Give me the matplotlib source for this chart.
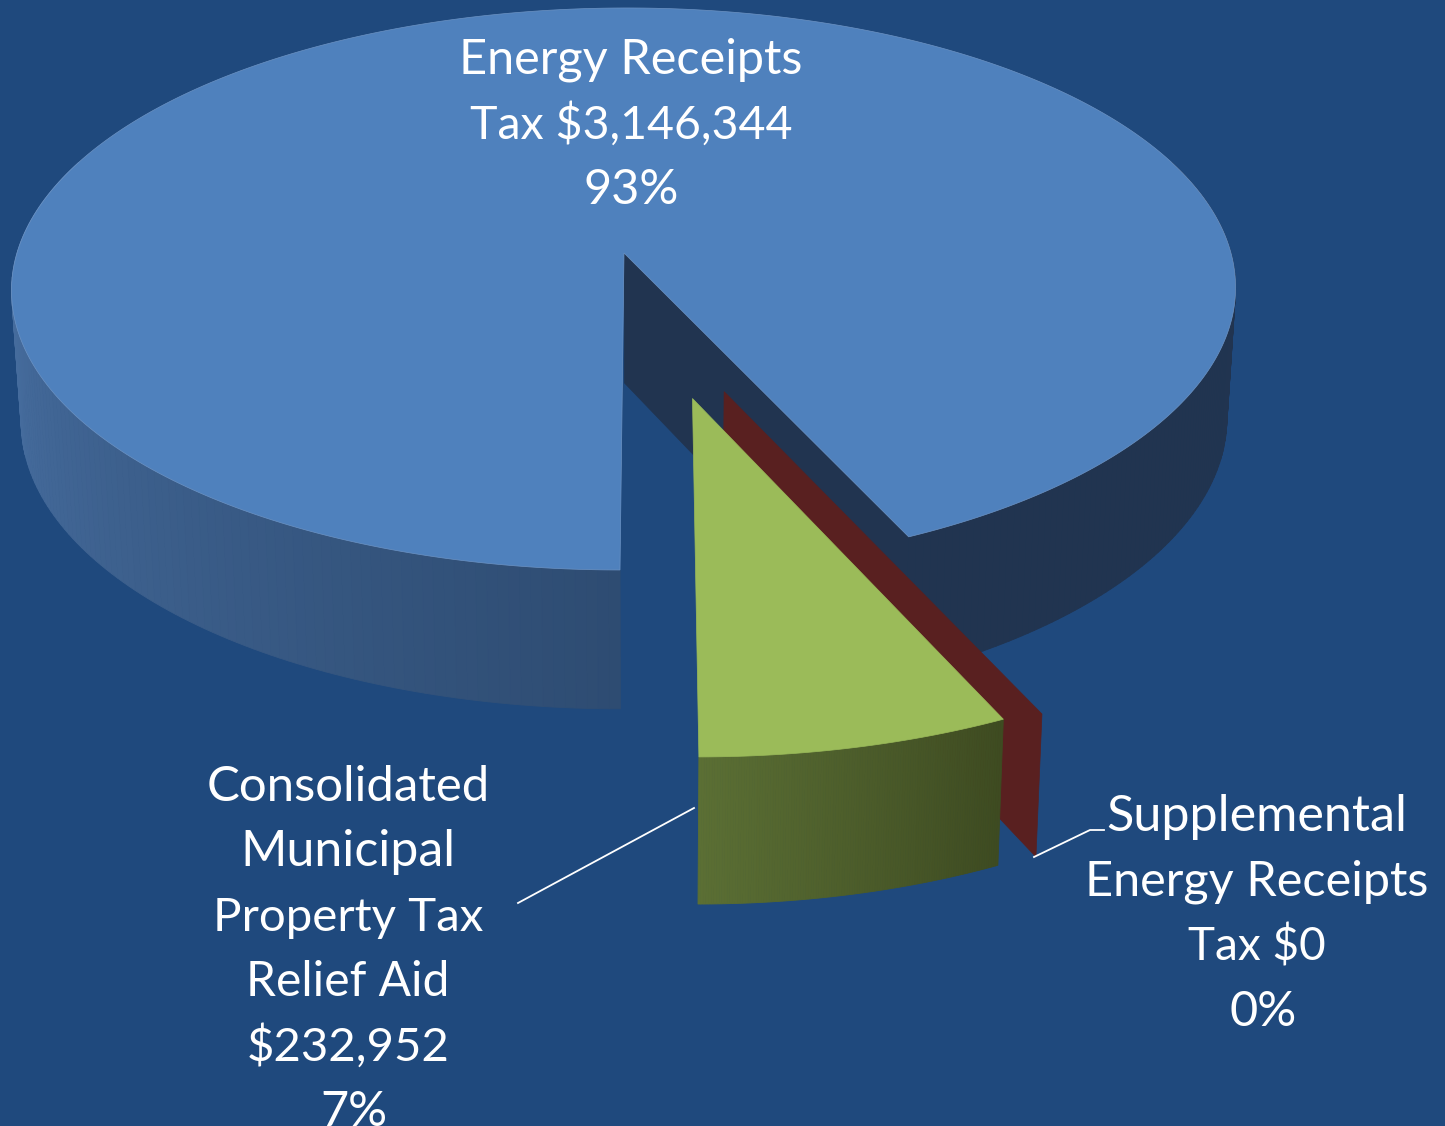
import numpy as np
import matplotlib
matplotlib.use("Agg")
import matplotlib.pyplot as plt
from matplotlib.colors import to_rgb

# Data
names = ["Energy Receipts Tax", "Consolidated Municipal Property Tax Relief Aid", "Supplemental Energy Receipts Tax"]
values = [3146344, 232952, 0]

energy_lines = ["Energy Receipts", "Tax $3,146,344", "93%"]
relief_lines = ["Consolidated", "Municipal", "Property Tax", "Relief Aid", "$232,952", "7%"]
supp_lines = ["Supplemental", "Energy Receipts", "Tax $0", "0%"]

# font sizes per line, Lato runs a bit wider than the original font on digits
energy_sizes = [35, 33.5, 35]
relief_sizes = [35.4, 36, 34.1, 34.5, 34, 35]
supp_sizes = [36.2, 35, 33, 35]

BG = "#1F497D"
BLUE = "#4F81BD"
DARK = "#213450"
GREEN = "#9BBB59"
RED = "#592020"

# projection of the pie disc onto the picture
K = 0.128
A = 607.0
B = 276.4
SHEAR = -0.0126


def top(u, v):
    w = 1 + K * v
    y = -B * v / w
    return 624 + A * u / w + SHEAR * y, 253 + y


def bottom(u, v, dy=0):
    w = 1 + K * v
    y = -B * 1.028 * v / w
    return 624.5 + A * 0.985 * u / w + SHEAR * y, 383 + y + dy


def arc(t1, t2, off=(0, 0), n=200, r=1.0):
    t = np.radians(np.linspace(t1, t2, n))
    return off[0] + r * np.cos(t), off[1] + r * np.sin(t)


def mix(c1, c2, f):
    c1, c2 = np.array(to_rgb(c1)), np.array(to_rgb(c2))
    return tuple(c1 + (c2 - c1) * f)


def wall(ax, t1, t2, off, c1, c2, zorder, n=120, r=1.0, dy=0):
    """Outer wall of a slice, split in strips so the colour can run along it."""
    u, v = arc(t1, t2, off, n, r)
    xt, yt = top(u, v)
    xb, yb = bottom(u, v, dy)
    for i in range(n - 1):
        col = mix(c1, c2, i / (n - 2))
        ax.fill([xt[i], xt[i + 1], xb[i + 1], xb[i]], [yt[i], yt[i + 1], yb[i + 1], yb[i]],
                fc=col, ec=col, lw=0.6, zorder=zorder)


def side(ax, t, off, color, zorder, r=1.0):
    """Flat cut face of a slice from its apex out to the rim at angle t."""
    u, v = arc(t, t, off, 2, r)
    ox, oy = off
    x1, y1 = top(ox, oy)
    x2, y2 = top(u[0], v[0])
    x3, y3 = bottom(u[0], v[0])
    x4, y4 = bottom(ox, oy)
    ax.fill([x1, x2, x3, x4], [y1, y2, y3, y4], fc=color, ec=color, lw=0.5, zorder=zorder)


def explode(angle, dist):
    a = np.radians(angle)
    return dist * np.sin(a), -dist * np.cos(a)


total = sum(values)
sweep = 360 * values[1] / total
t0 = -90
t1 = t0 + sweep

fig = plt.figure(figsize=(14.45, 11.26), dpi=100, facecolor=BG)
ax = fig.add_axes([0, 0, 1, 1])
ax.set_xlim(0, 1445)
ax.set_ylim(1126, 0)
ax.axis("off")

# big slice
side(ax, t1, (0, 0), DARK, 1)
wall(ax, t1, 20, (0, 0), DARK, DARK, 1)
wall(ax, 160, 270, (0, 0), "#4F79AF", "#2E4C72", 1)
u, v = arc(t1, 270, n=600)
xs, ys = top(np.append(u, 0), np.append(v, 0))
ax.fill(xs, ys, fc=BLUE, ec="#6C93C4", lw=0.5, zorder=2)

# zero slice, only its cut face shows
red_off = explode(18.5, 0.497)
side(ax, t1, red_off, RED, 3, r=0.995)

# exploded slice
green_off = explode(sweep / 2, 0.505)
green_r = 0.985
wall(ax, t0, t1, green_off, "#5B6F34", "#3E4B21", 4, r=green_r, dy=3)
u, v = arc(t0, t1, green_off, r=green_r)
xs, ys = top(np.append(u, green_off[0]), np.append(v, green_off[1]))
ax.fill(xs, ys, fc=GREEN, ec=GREEN, lw=0.5, zorder=5)

# leader lines
ax.plot([518, 694], [903, 808], color="white", lw=1.3, zorder=6)
ax.plot([1034, 1090, 1104], [857, 830, 830], color="white", lw=1.3, zorder=6)


def label(lines, sizes, x, y0, step, last_dx=0):
    for i, s in enumerate(lines):
        dx = last_dx if i == len(lines) - 1 else 0
        ax.text(x + dx, y0 + i * step, s, color="white", fontsize=sizes[i], family="Lato",
                ha="center", va="baseline", zorder=7, clip_on=False)


label(energy_lines, energy_sizes, 631, 74, 65)
label(relief_lines, relief_sizes, 348, 801, 65, 6)
label(supp_lines, supp_sizes, 1257, 831, 65, 6)

fig.savefig("out.png", dpi=100, facecolor=BG)
